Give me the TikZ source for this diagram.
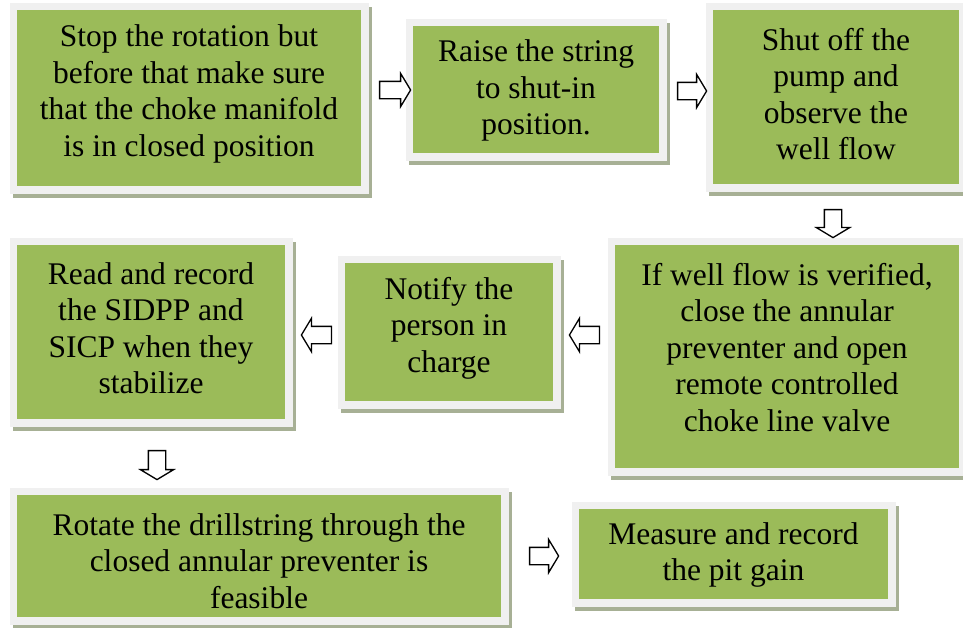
\documentclass[tikz,border=0pt]{standalone}
\usepackage{fontspec}
\setmainfont{Liberation Serif}
\newfontfamily\tnrfont{Liberation Serif}
\usetikzlibrary{shapes.arrows,calc}
\definecolor{boxgreen}{HTML}{9BBB59}
\definecolor{framec}{HTML}{F0F0F0}
\definecolor{shadowc}{HTML}{A7B095}
\tikzset{
  greenbox/.style={fill=boxgreen, draw=none, inner sep=0pt, outer sep=0pt},
  boxtext/.style={align=center, inner sep=0pt, font=\tnrfont\fontsize{31.5}{36.5}\selectfont},
  barrow/.style={single arrow, draw=black, fill=white, line width=1.3pt,
    inner xsep=0pt, inner ysep=8pt, minimum height=30pt,
    single arrow head extend=8pt, single arrow tip angle=118},
}
\newcommand{\flowbox}[5]{%
  \fill[shadowc] (#2-7.5+3,#3-7.5+4) rectangle (#4+7.5+3,#5+7.5+4);
  \fill[framec] (#2-7.5,#3-7.5) rectangle (#4+7.5,#5+7.5);
  \node[greenbox, minimum width={#4-#2}, minimum height={#5-#3}] (#1) at ({(#2+#4)/2},{(#3+#5)/2}) {};
}
\begin{document}
\begin{tikzpicture}[x=1pt,y=-1pt]
\useasboundingbox (0,0) rectangle (963,627);
\fill[white] (0,0) rectangle (963,627);
% boxes
\flowbox{b1}{17}{10}{361}{186}
\flowbox{b2}{413}{26}{659}{153}
\flowbox{b3}{713}{10}{959}{184}
\flowbox{b4}{17}{245}{285}{419}
\flowbox{b5}{345}{263}{553}{401}
\flowbox{b6}{615}{245}{959}{468}
\flowbox{b8}{17}{495}{501}{617}
\flowbox{b9}{579}{509}{888}{599}
% texts
\node[boxtext] (t1) at ($(b1.center)+(0,-4)$) {Stop the rotation but\\before that make sure\\that the choke manifold\\is in closed position};
\node[boxtext] (t2) at ($(b2.center)+(0,1)$) {Raise the string\\to shut-in\\position.};
\node[boxtext] (t3) at ($(b3.center)+(0,-3)$) {Shut off the\\pump and\\observe the\\well flow};
\node[boxtext] (t4) at ($(b4.center)+(0,-4)$) {Read and record\\the SIDPP and\\SICP when they\\stabilize};
\node[boxtext] (t5) at ($(b5.center)+(0,-4)$) {Notify the\\person in\\charge};
\node[boxtext] (t6) at ($(b6.center)+(0,-9)$) {If well flow is verified,\\close the annular\\preventer and open\\remote controlled\\choke line valve};
\node[boxtext] (t8) at ($(b8.center)+(0,5)$) {Rotate the drillstring through the\\closed annular preventer is\\feasible};
\node[boxtext] (t9) at ($(b9.center)+(0,1)$) {Measure and record\\the pit gain};
% block arrows
\node[barrow, minimum height=31pt] (a1) at (392.5,90) {};
\node[barrow, minimum height=29pt] (a2) at (689.5,91) {};
\node[barrow, minimum height=28pt, rotate=-90] (a3) at (833,221) {};
\node[barrow, minimum height=30pt, rotate=180] (a4) at (587,335) {};
\node[barrow, minimum height=30pt, rotate=180] (a5) at (319,335) {};
\node[barrow, minimum height=29pt, rotate=-90] (a6) at (157,462.5) {};
\node[barrow, minimum height=29pt] (a7) at (541.5,556) {};
\end{tikzpicture}
\end{document}
